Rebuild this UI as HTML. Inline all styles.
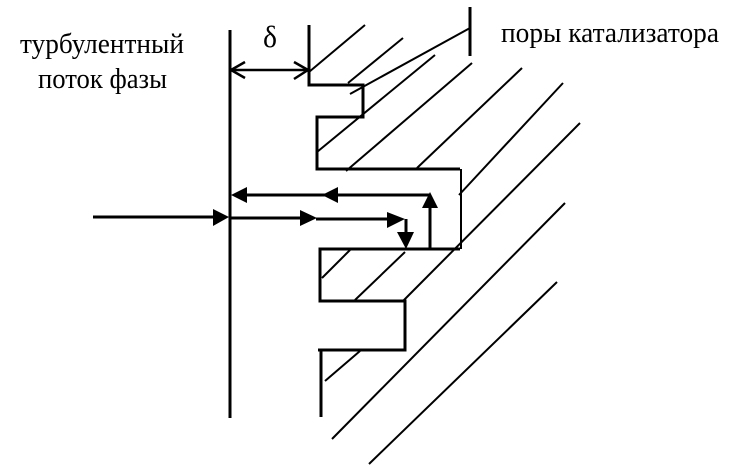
<!DOCTYPE html>
<html>
<head>
<meta charset="utf-8">
<style>
  html, body { margin: 0; padding: 0; background: #ffffff; }
  body { width: 746px; height: 468px; overflow: hidden; }
  svg { display: block; }
  text { font-family: "Liberation Serif", "DejaVu Serif", serif; fill: #000; }
</style>
</head>
<body>
<svg width="746" height="468" viewBox="0 0 746 468" xmlns="http://www.w3.org/2000/svg">
  <rect x="0" y="0" width="746" height="468" fill="#ffffff"/>

  <!-- Labels -->
  <text x="20" y="53" font-size="29" textLength="164" lengthAdjust="spacingAndGlyphs">турбулентный</text>
  <text x="38" y="88" font-size="29" textLength="129" lengthAdjust="spacingAndGlyphs">поток фазы</text>
  <text x="501" y="42" font-size="29" textLength="218" lengthAdjust="spacingAndGlyphs">поры катализатора</text>
  <text x="263" y="47" font-size="31" textLength="14" lengthAdjust="spacingAndGlyphs">δ</text>

  <g fill="none" stroke="#000" stroke-linecap="butt" stroke-linejoin="miter">
    <!-- Main vertical boundary (film edge) -->
    <path d="M230 30 V418" stroke-width="3"/>

    <!-- Delta dimension with open arrowheads -->
    <path d="M230 70 H309" stroke-width="2.5"/>
    <path d="M245 62 L231 70 L245 78" stroke-width="2.5"/>
    <path d="M294 62 L308 70 L294 79" stroke-width="2.5"/>

    <!-- Catalyst profile -->
    <path d="M309 25 V85 H363 V117 H317 V169 H460" stroke-width="3"/>
    <path d="M461 169 V249" stroke-width="2"/>
    <path d="M460 249 H320 V301 H405 V350 H318" stroke-width="3"/>
    <path d="M321 350 V417" stroke-width="3"/>

    <!-- Pore label leader -->
    <path d="M470 7 V56" stroke-width="3"/>
    <path d="M350 94 L470 28" stroke-width="2"/>

    <!-- Hatching -->
    <g stroke-width="2">
      <path d="M309 72 L365 25"/>
      <path d="M348 83 L403 38"/>
      <path d="M317 152 L435 55"/>
      <path d="M346 171 L472 63"/>
      <path d="M417 168 L522 68"/>
      <path d="M459 195 L563 83"/>
      <path d="M403 301 L580 123"/>
      <path d="M332 439 L565 203"/>
      <path d="M369 464 L557 282"/>
      <path d="M322 278 L350 250"/>
      <path d="M355 300 L405 252"/>
      <path d="M325 381 L360 351"/>
    </g>

    <!-- Flow arrows lines -->
    <path d="M430 249 V204" stroke-width="3"/>
    <path d="M430 195 H240" stroke-width="3"/>
    <path d="M93 217 H220" stroke-width="3"/>
    <path d="M230 218 H305" stroke-width="3"/>
    <path d="M316 219 H392" stroke-width="3"/>
    <path d="M406 219 V235" stroke-width="3"/>
  </g>

  <!-- Filled arrowheads -->
  <g fill="#000" stroke="none">
    <polygon points="430,192 422,208 438,208"/>
    <polygon points="231,195 247,187 247,203"/>
    <polygon points="322,195 338,187 338,203"/>
    <polygon points="229,217 213,209 213,226"/>
    <polygon points="317,218 300,210 300,226"/>
    <polygon points="405,219 387,212 387,228"/>
    <polygon points="397,232 414,232 406,249"/>
  </g>
</svg>
</body>
</html>
